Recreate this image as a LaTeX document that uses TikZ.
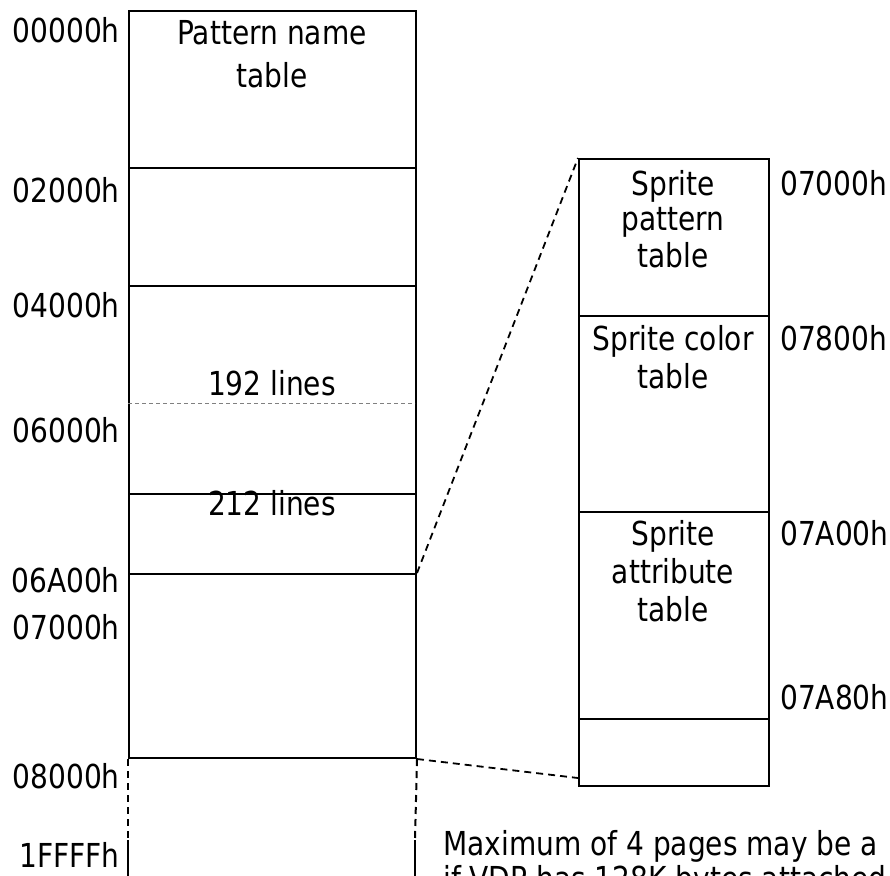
\documentclass[tikz,border=0pt]{standalone}
\usepackage{fontspec}
\setmainfont[FakeStretch=0.85]{DejaVu Sans}
\begin{document}
\begin{tikzpicture}[x=1pt,y=-1pt,
  every node/.style={font=\fontsize{33}{37}\selectfont, inner sep=0pt},
  sect/.style={draw, line width=2pt, anchor=north west, minimum width=#1},
  sect/.default=287pt,
  txt/.style={anchor=base},
  lbl/.style={anchor=base east},
  rlbl/.style={anchor=base west},
  link/.style={line width=1.8pt, dash pattern=on 7pt off 5pt},
  guide/.style={line width=2pt, dash pattern=on 7pt off 5pt}]
\useasboundingbox (0,0) rectangle (890,875);
% left column
\node[sect, minimum height=157pt] (s1) at (128,10) {};
\node[sect, minimum height=118pt] (s2) at (128,167) {};
\node[sect, minimum height=208pt] (s3) at (128,285) {};
\node[sect, minimum height=80pt]  (s4) at (128,493) {};
\node[sect, minimum height=184pt] (s5) at (128,573) {};
% grey 192-lines line
\coordinate (g1) at (128,403);
\coordinate (g2) at (415,403);
\draw[gray, line width=1pt, dash pattern=on 4pt off 3pt] (g1) -- (g2);
% continuation below
\coordinate (dl) at (128,840);
\coordinate (dr) at (415,840);
\coordinate (el) at (128,880);
\coordinate (er) at (415,880);
\draw[guide] (s5.south west) -- (dl);
\draw[guide] (s5.south east) -- (dr);
\draw[line width=2pt] (dl) -- (el);
\draw[line width=2pt] (dr) -- (er);
% texts in left column
\node[txt] (t1) at (272,45) {Pattern name};
\node[txt] (t2) at (272,87) {table};
\node[txt] (t192) at (272,395) {192 lines};
\node[txt] (t212) at (272,515) {212 lines};
% left labels
\node[lbl] (a0) at (120,42) {00000h};
\node[lbl] (a1) at (120,202) {02000h};
\node[lbl] (a2) at (120,317) {04000h};
\node[lbl] (a3) at (120,442) {06000h};
\node[lbl] (a4) at (120,592) {06A00h};
\node[lbl] (a5) at (120,639) {07000h};
\node[lbl] (a6) at (120,788) {08000h};
\node[lbl] (a7) at (120,867) {1FFFFh};
% right column
\node[sect=190pt, minimum height=157pt] (r1) at (578,158) {};
\node[sect=190pt, minimum height=196pt] (r2) at (578,315) {};
\node[sect=190pt, minimum height=207pt] (r3) at (578,511) {};
\node[sect=190pt, minimum height=67pt]  (r4) at (578,718) {};
\node[txt] (p1) at (673,195) {Sprite};
\node[txt] (p2) at (673,230) {pattern};
\node[txt] (p3) at (673,267) {table};
\node[txt] (c1) at (673,350) {Sprite color};
\node[txt] (c2) at (673,388) {table};
\node[txt] (b1) at (673,545) {Sprite};
\node[txt] (b2) at (673,583) {attribute};
\node[txt] (b3) at (673,621) {table};
\node[rlbl] (q0) at (780,195) {07000h};
\node[rlbl] (q1) at (780,350) {07800h};
\node[rlbl] (q2) at (780,545) {07A00h};
\node[rlbl] (q3) at (780,709) {07A80h};
% zoom connectors
\coordinate (r4e) at (578,778);
\draw[link] (s5.north east) -- (r1.north west);
\draw[link] (s5.south east) -- (r4e);
% note
\node[anchor=base west] (n1) at (443,855) {Maximum of 4 pages may be a};
\node[anchor=base west] (n2) at (443,890) {if VDP has 128K bytes attached};
\end{tikzpicture}
\end{document}
